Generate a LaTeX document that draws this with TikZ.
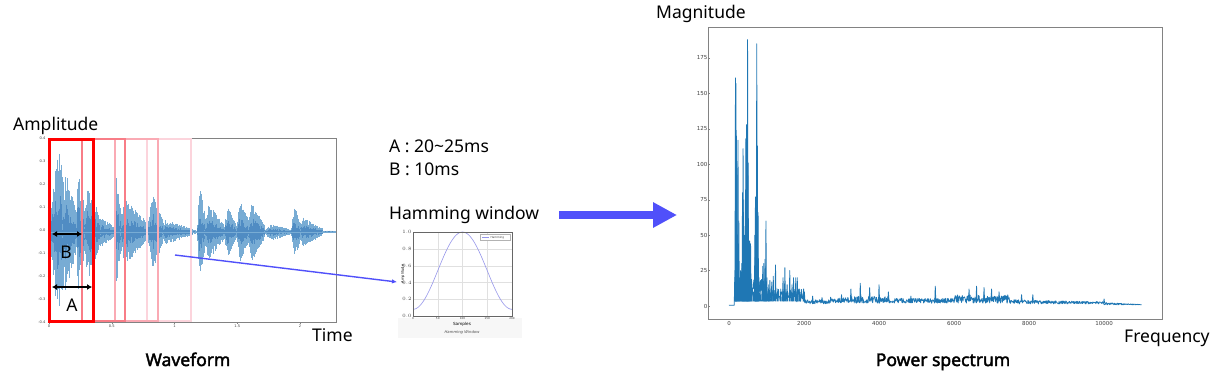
\documentclass[tikz,border=0pt]{standalone}
\usepackage{fontspec}
\setmainfont{Noto Sans}
\newfontfamily\titlefont{Noto Sans}[AutoFakeBold=2.2]
\newfontfamily\tickfont{DejaVu Sans}
\usetikzlibrary{arrows.meta}
\definecolor{wave}{RGB}{120,172,212}
\definecolor{wavecore}{RGB}{80,140,195}
\definecolor{specblue}{RGB}{31,119,180}
\definecolor{axgray}{RGB}{130,130,130}
\definecolor{arrblue}{RGB}{80,80,250}
\definecolor{frA}{RGB}{255,0,0}
\definecolor{frB}{RGB}{248,125,135}
\definecolor{frC}{RGB}{250,170,180}
\definecolor{frD}{RGB}{252,212,220}
\definecolor{hamcol}{RGB}{150,150,235}
\tikzset{
  lbl/.style={font=\fontsize{17.5}{20}\selectfont, inner sep=0pt},
  title/.style={font=\titlefont\fontsize{17.5}{20}\selectfont\bfseries, inner sep=0pt},
  axbox/.style={draw=axgray, line width=0.8pt},
  tick/.style={font=\tickfont\fontsize{3.6}{4}\selectfont, text=black!75, inner sep=0.5pt},
  stick/.style={font=\tickfont\fontsize{5.5}{6}\selectfont, text=black!75, inner sep=0.5pt},
  htick/.style={font=\tickfont\fontsize{2.8}{3}\selectfont, text=black!75, inner sep=0.3pt},
  frame/.style={line width=2.8pt},
  dimarrow/.style={{Latex[length=5pt,width=6pt]}-{Latex[length=5pt,width=6pt]}, line width=1.6pt},
  spec/.style={draw=specblue, line width=0.8pt, line join=round},
}
\begin{document}
\begin{tikzpicture}[x=1pt,y=-1pt]
\useasboundingbox (0,0) rectangle (1225,373);
\fill[white] (0,0) rectangle (1225,373);

% ================= Waveform =================
\pgfmathsetseed{11}
\foreach \xs/\xe/\amp/\att in {
  50/66/152/0.55, 62/78/71/0.2, 76/86/71/0.2, 84/101/57/0.2,
  100/115/16/0.1, 114/122/69/0.2, 120/148/38/0.15, 147/163/53/0.4,
  162/192/13/0.1, 192/197/3/0.5, 197/206/58/0.3, 204/224/33/0.2,
  224/236/33/0.3, 236/250/39/0.3, 248/264/36/0.2, 264/290/10/0.3,
  291/302/32/0.3, 300/322/16/0.1, 322/336/1.5/0.5} {
  \pgfmathsetmacro\len{\xe-\xs}
  \pgfmathsetmacro\xn{\xs+0.4}
  \foreach \x in {\xs,\xn,...,\xe} {
    \pgfmathsetmacro\u{(\x-\xs)/\len}
    \pgfmathsetmacro\env{\amp*min(1,\u/\att)*(1-0.8*\u)+0.6}
    \pgfmathsetmacro\tp{\env*(0.6+0.4*rnd)}
    \pgfmathsetmacro\bt{\env*(0.6+0.4*rnd)}
    \pgfmathsetmacro\ct{\env*(0.2+0.3*rnd)}
    \pgfmathsetmacro\cb{\env*(0.2+0.3*rnd)}
    \draw[wave, line width=0.5pt] (\x,232-\tp) -- (\x,232+\bt);
    \draw[wavecore, line width=0.5pt] (\x,232-\ct) -- (\x,232+\cb);
  }
}
\draw[wave, line width=0.5pt] (49,232) -- (336,232);
\draw[axbox] (49,138) rectangle (336,322);
\foreach \v [count=\i from 0] in {0.4,0.3,0.2,0.1,0.0,-0.1,-0.2,-0.3,-0.4} {
  \node[tick, anchor=east] (wy\i) at (46,138+\i*23) {\v};
  \draw[axgray, line width=0.3pt] (47.5,138+\i*23) -- (49,138+\i*23);
}
\foreach \v/\t [count=\i] in {0/0,0.5/0.5,1/1,1.5/1.5,2/2} {
  \node[tick, anchor=north] (wx\i) at (49+\v*125.5,324.5) {\t};
  \draw[axgray, line width=0.3pt] (49+\v*125.5,322) -- (49+\v*125.5,323.5);
}

% frames
\draw[frame, frD] (147,139) rectangle (191,321);
\draw[frame, frC] (115,139) rectangle (158,321);
\draw[frame, frB] (82,139) rectangle (125,321);
\draw[frame, frA, line width=3pt] (49.5,139) rectangle (93,321);

% A / B dimension arrows
\coordinate (b1) at (52,234);
\coordinate (b2) at (82,234);
\coordinate (a1) at (52,287);
\coordinate (a2) at (92,287);
\draw[dimarrow] (b1) -- (b2);
\draw[dimarrow] (a1) -- (a2);
\node[lbl] (labB) at (66,252) {B};
\node[lbl] (labA) at (72,305) {A};

\node[lbl, anchor=base west] (amp) at (13,130) {Amplitude};
\node[lbl, anchor=base west] (time) at (312,341) {Time};
\node[title, anchor=base] (wf) at (188,366) {Waveform};

% ================= Middle texts =================
\node[lbl, anchor=base west] (ta) at (389,152) {A : 20\char"007E 25ms};
\node[lbl, anchor=base west] (tb) at (389,175) {B : 10ms};
\node[lbl, anchor=base west] (hw) at (389,219) {Hamming window};

% ================= Hamming plot =================
\fill[black!3] (398,318) rectangle (522,338);
\node[inner sep=0pt, minimum width=99pt, minimum height=84pt] (ham) at (462.5,274) {};
\foreach \i in {0,1,...,5} {
  \draw[black!12, line width=0.2pt] (413,316-\i*16.8) -- (512,316-\i*16.8);
  \pgfmathsetmacro\lab{\i*0.2}
  \node[htick, anchor=east] at (412,316-\i*16.8) {\pgfmathprintnumber[fixed,precision=1,fixed zerofill]{\lab}};
}
\foreach \n in {0,50,100,150,200} {
  \draw[black!12, line width=0.2pt] (413+\n*0.495,232) -- (413+\n*0.495,316);
  \node[htick, anchor=north] at (413+\n*0.495,317) {\n};
}
\draw[hamcol, line width=0.6pt] plot[domain=0:200, samples=101, smooth] ({413+\x*0.495},{316-84*(0.54-0.46*cos(1.8*\x))});
\draw[black!60, line width=0.4pt] (413,232) rectangle (512,316);
\draw[black!30, line width=0.25pt, fill=white] (480,234.5) rectangle (510,240.5);
\draw[hamcol, line width=0.5pt] (482,237.5) -- (489,237.5);
\node[htick, anchor=west] at (490,237.5) {Hamming};
\node[font=\tickfont\fontsize{3.6}{4}\selectfont, rotate=90, inner sep=0pt] at (403,274) {Amplitude};
\node[font=\tickfont\fontsize{4.2}{5}\selectfont, inner sep=0pt] at (462,324) {Samples};
\node[font=\tickfont\itshape\fontsize{3.8}{4}\selectfont, inner sep=0pt, text=black!70] at (462,332) {Hamming Window};

% thin blue connector
\coordinate (wsrc) at (175,255);
\coordinate (hend) at (397,282);
\draw[arrblue, line width=1.4pt, -{Latex[length=5pt,width=4.5pt]}] (wsrc) -- (hend);

% big arrow
\coordinate (bigS) at (559,215);
\coordinate (bigE) at (677,215);
\draw[arrblue, line width=8pt, -{Triangle[length=24pt,width=24pt]}] (bigS) -- (bigE);

% ================= Power spectrum =================
\draw[axbox] (708,27) rectangle (1162,319);
\begin{scope}[shift={(729,306)}]
\begin{scope}[x=0.0375pt, y=1.417pt]
  \foreach \v in {0,25,...,175} {
    \node[stick, anchor=east] at (-560,\v) {\v};
    \draw[axgray, line width=0.3pt] (-520,\v) -- (-560,\v);
  }
  \foreach \f in {0,2000,...,10000} {
    \node[stick, anchor=north] at (\f,-10.3) {\f};
    \draw[axgray, line width=0.3pt] (\f,-9.2) -- (\f,-10.2);
  }
  \pgfmathsetseed{5}
  \draw[spec] (0,0.5) \foreach \f in {10,20,...,11000} {
     -- (\f,{(\f<150 ? 0.6 : (\f<1000 ? 6+14*rnd : (\f<2000 ? 3+9*rnd : (\f<2700 ? 1.5+3*rnd : (\f<4300 ? 2+5*rnd : (\f<6000 ? 2+3.5*rnd : (\f<7500 ? 2+6*rnd : (\f<10000 ? 1.5+(3-1.5*(\f-7500)/2500)*rnd : 0.8+(1.8-1.6*(\f-10000)/1000)*rnd))))))))})
  };
  \foreach \f/\h in {160/25,172/161,186/157,200/120,215/102,240/117,262/60,282/20,310/25,340/30,
     360/80,375/111,392/75,410/50,430/40,448/118,465/128,480/100,495/188,510/101,530/40,550/46,
     575/44,600/15,650/10,690/50,705/77,722/70,740/185,756/113,775/66,800/20,850/12,900/28,
     930/30,960/33,985/60,1010/20,1060/15,1090/18,1140/17,1180/21,1240/29,1300/12,1380/12,
     1440/20,1490/27,1550/15,1620/25,1680/15,1720/20,1780/20,1820/20,1870/12,1990/12,2010/10,
     2230/7,2480/6,3000/8,3250/12,3500/16,3750/13,4000/15,4250/10,4850/7,5500/14,6400/12,
     6600/14,6800/13,7000/12,7200/10,7800/8,8100/8,10000/5} {
    \draw[spec] (\f-14,{min(\h,8)*0.4}) -- (\f,\h) -- (\f+14,{min(\h,8)*0.4});
  }
\end{scope}
\end{scope}

\node[lbl, anchor=base west] (mag) at (656,18) {Magnitude};
\node[lbl, anchor=base west] (freq) at (1124,342) {Frequency};
\node[title, anchor=base] (ps) at (943,366) {Power spectrum};
\end{tikzpicture}
\end{document}
